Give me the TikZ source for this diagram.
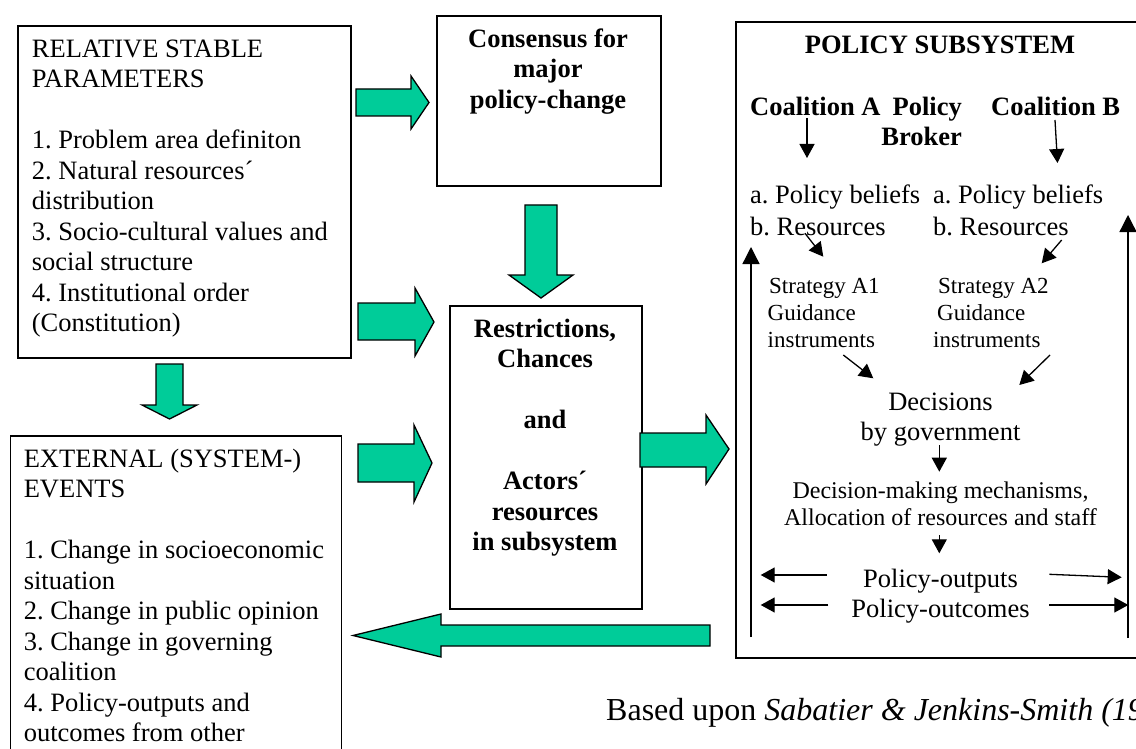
\documentclass[tikz,border=0pt]{standalone}
\usepackage{fontspec}
\setmainfont{Liberation Serif}
\usetikzlibrary{arrows.meta}
\definecolor{arrowgreen}{RGB}{0,204,153}
\begin{document}
\frenchspacing
\begin{tikzpicture}[x=1pt,y=-1pt,
  box/.style={draw=black,line width=1.6pt,inner sep=0pt,anchor=north west},
  blockarrow/.style={fill=arrowgreen,draw=black,line width=1.3pt,line join=miter},
  txt/.style={inner sep=0pt,font=\fontsize{26.5}{30.5}\selectfont\frenchspacing,align=left,anchor=north west},
  ctxt/.style={inner sep=0pt,font=\fontsize{26.5}{30.5}\selectfont\frenchspacing,align=center,anchor=north},
  btxt/.style={inner sep=0pt,font=\fontsize{26.5}{30.5}\selectfont\bfseries,align=center,anchor=north},
  conn/.style={line width=1.3pt,-{Triangle[length=14pt,width=15pt]}},
]
\clip (0,0) rectangle (1136,749);
\fill[white] (0,0) rectangle (1136,749);

% ---------- boxes ----------
\node[box,minimum width=333pt,minimum height=332pt] (stable) at (17,25) {};
\node[box,minimum width=224pt,minimum height=170pt] (consensus) at (436,15) {};
\node[box,minimum width=192pt,minimum height=303pt] (restr) at (449,305) {};
\node[box,minimum width=331pt,minimum height=330pt] (external) at (9.5,435) {};
\node[box,minimum width=430pt,minimum height=636pt] (subsys) at (735,21) {};

% ---------- box texts ----------
\node[txt] (stabletxt) at (31.7,35.65) {\strut RELATIVE STABLE\\ PARAMETERS\\[30.5pt]
  1. Problem area definiton\\ 2. Natural resources\textasciiacute\\ distribution\\
  3. Socio-cultural values and\\ social structure\\ 4. Institutional order\\ (Constitution)};

\node[txt] (exttxt) at (23.6,445.65) {\strut EXTERNAL (SYSTEM-)\\ EVENTS\\[30.5pt]
  1. Change in socioeconomic\\ situation\\ 2. Change in public opinion\\
  3. Change in governing\\ coalition\\ 4. Policy-outputs and\\ outcomes from other};

\node[btxt] (constxt) at (548,25.65) {\strut Consensus for\\ major\\ policy-change};

\node[btxt] (restrtxt) at (545,315.65) {\strut Restrictions,\\ Chances\\[30.5pt] and\\[30.5pt]
  Actors\textasciiacute\\ resources\\ in subsystem};

% ---------- policy subsystem contents ----------
\node[btxt] (pstitle) at (940,31.65) {\strut POLICY SUBSYSTEM};
\node[btxt,anchor=north west] (coalA) at (750,93.65) {\strut Coalition A};
\node[btxt,anchor=north east,align=right] (broker) at (962,93.65) {\strut Policy\\ Broker};
\node[btxt,anchor=north west] (coalB) at (991,93.65) {\strut Coalition B};

\node[txt,font=\fontsize{26.5}{32}\selectfont\frenchspacing] (beliefsA) at (750,180.6) {\strut a. Policy beliefs\\ b. Resources};
\node[txt,font=\fontsize{26.5}{32}\selectfont\frenchspacing] (beliefsB) at (933,180.6) {\strut a. Policy beliefs\\ b. Resources};

\node[txt,font=\fontsize{23}{27.3}\selectfont] (stratA) at (767.5,273.9) {\strut\hspace{1.5pt}Strategy A1\\ Guidance\\ instruments};
\node[txt,font=\fontsize{23}{27.3}\selectfont] (stratB) at (933,273.9) {\strut\hspace{5pt}Strategy A2\\\hspace{4pt}Guidance\\ instruments};

\node[ctxt,font=\fontsize{26.5}{30}\selectfont] (decisions) at (940.5,389) {\strut Decisions\\ by government};
\node[ctxt,font=\fontsize{24}{27}\selectfont] (mechan) at (940.5,479.1) {\strut Decision-making mechanisms,\\ Allocation of resources and staff};
\node[ctxt] (outputs) at (940.5,565.65) {\strut Policy-outputs\\ Policy-outcomes};

\node[inner sep=0pt,anchor=base west,font=\fontsize{32}{36}\selectfont] (source) at (606,720)
  {Based upon \textit{Sabatier \& Jenkins-Smith (1993)}};

% ---------- connector end points ----------
\coordinate (cAs) at (807,118);   \coordinate (cAe) at (807,158);
\coordinate (cBs) at (1055,120);  \coordinate (cBe) at (1057.5,163);
\coordinate (rAs) at (805,233.3); \coordinate (rAe) at (823.3,256.7);
\coordinate (rBs) at (1061.7,240);\coordinate (rBe) at (1041.7,263.3);
\coordinate (iAs) at (843.3,355); \coordinate (iAe) at (873.3,378.3);
\coordinate (iBs) at (1050,355);  \coordinate (iBe) at (1019.3,385);
\coordinate (dS) at (939.3,445);  \coordinate (dE) at (939.3,471.7);
\coordinate (mS) at (939.3,535);  \coordinate (mE) at (939.3,553.3);
\coordinate (oLs) at (826.7,575); \coordinate (oLe) at (760.7,575);
\coordinate (oRs) at (1049.3,574.3); \coordinate (oRe) at (1121.7,577.3);
\coordinate (uLs) at (828.3,605); \coordinate (uLe) at (760.7,605);
\coordinate (uRs) at (1049.3,605); \coordinate (uRe) at (1128.3,605);
\coordinate (fLs) at (751,637);   \coordinate (fLe) at (751,247);
\coordinate (fRs) at (1128,638);  \coordinate (fRe) at (1128,215);

\draw[conn] (cAs) -- (cAe);
\draw[conn] (cBs) -- (cBe);
\draw[conn] (rAs) -- (rAe);
\draw[conn] (rBs) -- (rBe);
\draw[conn] (iAs) -- (iAe);
\draw[conn] (iBs) -- (iBe);
\draw[conn] (dS) -- (dE);
\draw[conn] (mS) -- (mE);
\draw[conn] (oLs) -- (oLe);
\draw[conn] (oRs) -- (oRe);
\draw[conn] (uLs) -- (uLe);
\draw[conn] (uRs) -- (uRe);
\draw[conn,-{Triangle[length=17pt,width=17pt]}] (fLs) -- (fLe);
\draw[conn,-{Triangle[length=17pt,width=17pt]}] (fRs) -- (fRe);

% ---------- green block arrows ----------
\draw[blockarrow] (356,89) -- (411,89) -- (411,76) -- (429,102.5) -- (411,129) -- (411,116) -- (356,116) -- cycle;
\draw[blockarrow] (358,303) -- (415,303) -- (415,288) -- (434,322) -- (415,356) -- (415,340) -- (358,340) -- cycle;
\draw[blockarrow] (525,205) -- (557,205) -- (557,275) -- (573,275) -- (541,298) -- (509,275) -- (525,275) -- cycle;
\draw[blockarrow] (156,364) -- (183,364) -- (183,405) -- (197,405) -- (169.5,419) -- (142,405) -- (156,405) -- cycle;
\draw[blockarrow] (358,444) -- (414,444) -- (414,425) -- (432,463) -- (414,502) -- (414,482) -- (358,482) -- cycle;
\draw[blockarrow] (640,433) -- (706,433) -- (706,415) -- (729,449) -- (706,484) -- (706,467) -- (640,467) -- cycle;
\draw[blockarrow] (710,625) -- (441,625) -- (441,614) -- (353,635.5) -- (441,657) -- (441,646) -- (710,646) -- cycle;
\end{tikzpicture}
\end{document}
